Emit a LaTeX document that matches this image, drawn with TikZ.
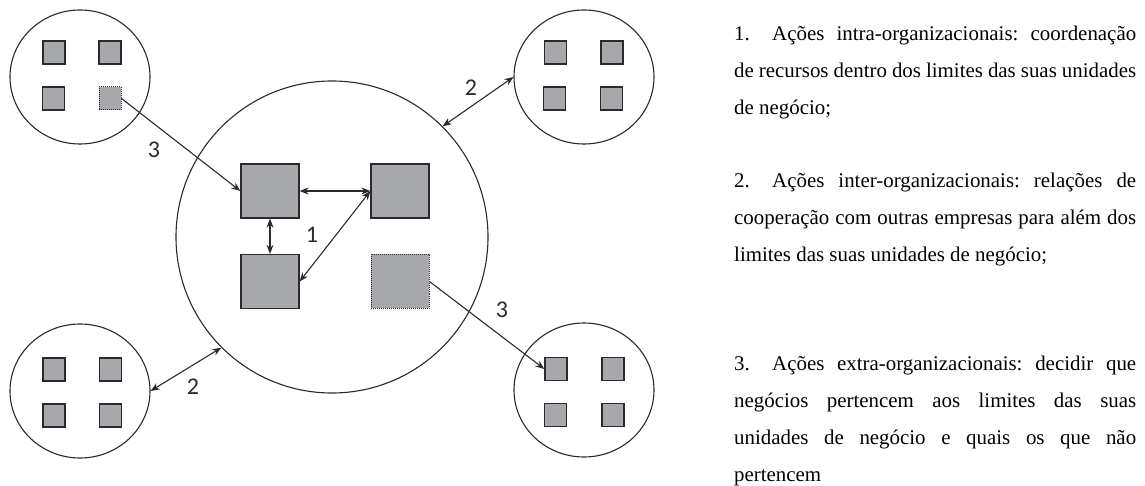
\documentclass[tikz,border=0pt]{standalone}
\usepackage{fontspec}
\setmainfont{Liberation Serif}
\newfontfamily\lblfont{Carlito}
\usetikzlibrary{arrows.meta,shapes.geometric}
\definecolor{sqfill}{HTML}{A7A8AB}
\definecolor{ink}{HTML}{2A2A2A}
\begin{document}
\frenchspacing
\begin{tikzpicture}[x=1bp,y=-1bp,
  >={Stealth[length=9bp,width=7bp]},
  ring/.style={draw=ink, line width=1.1bp, ellipse, minimum width=140bp, minimum height=134bp, inner sep=0pt},
  bigring/.style={draw=ink, line width=1.1bp, circle, minimum size=312bp, inner sep=0pt},
  sq/.style={draw=ink, fill=sqfill, line width=1.3bp, minimum width=22bp, minimum height=23bp, inner sep=0pt},
  bsq/.style={sq, minimum width=58bp, minimum height=54bp},
  dotsq/.style={dash pattern=on 1bp off 1bp, line width=1bp},
  con/.style={draw=ink, line width=1.1bp},
  lbl/.style={font=\lblfont\fontsize{24bp}{28bp}\selectfont, text=ink, inner sep=0pt},
  txt/.style={font=\fontsize{20.9bp}{25bp}\selectfont\frenchspacing, anchor=base west, inner sep=0pt}
]
\useasboundingbox (0,0) rectangle (1145,486);

% circles
\node[ring] (rTL) at (80,77) {};
\node[ring] (rTR) at (584,77) {};
\node[ring] (rBL) at (80,391) {};
\node[ring] (rBR) at (584,390) {};
\node[bigring] (C) at (332,237) {};

% small squares
\node[sq] (a1) at (54,52.5) {};
\node[sq] (a2) at (110,52.5) {};
\node[sq] (a3) at (53.5,98.5) {};
\node[sq,dotsq] (a4) at (110,98.5) {};

\node[sq] (b1) at (555.5,52.5) {};
\node[sq] (b2) at (612,52.5) {};
\node[sq] (b3) at (554.5,98.5) {};
\node[sq] (b4) at (611.5,98.5) {};

\node[sq] (c1) at (54,369.5) {};
\node[sq] (c2) at (110.5,369.5) {};
\node[sq] (c3) at (54,415.5) {};
\node[sq] (c4) at (110.5,415.5) {};

\node[sq] (d1) at (556,369) {};
\node[sq] (d2) at (613,369) {};
\node[sq] (d3) at (555.5,415) {};
\node[sq] (d4) at (613,415) {};

% central squares
\node[bsq] (cTL) at (270,191) {};
\node[bsq] (cTR) at (400,191) {};
\node[bsq] (cBL) at (270,281.5) {};
\node[bsq,dotsq] (cBR) at (400,281.5) {};

% connectors
\draw[con,<->] (cTL.east) -- (cTR.west);
\draw[con,<->] (cTL.south) -- (cBL.north);
\draw[con,<->] (cTR.west) -- (cBL.east);
\draw[con,->] (a4.east) -- (cTL.west);
\draw[con,->] (cBR.east) -- (d1.west);
\draw[con,<->] (C.45) -- (rTR.west);
\draw[con,<->] (rBL.east) -- (C.225);

% labels
\node[lbl] (n1) at (312,235) {1};
\node[lbl] (n2a) at (471,88) {2};
\node[lbl] (n2b) at (193,387) {2};
\node[lbl] (n3a) at (154,150) {3};
\node[lbl] (n3b) at (502,310) {3};

% text
\node[txt] (p1a) at (734,40.7) {\makebox[402bp][s]{\makebox[38bp][l]{1.}Ações intra-organizacionais: coordenação}};
\node[txt] (p1b) at (734,77.4) {\makebox[402bp][s]{de recursos dentro dos limites das suas unidades}};
\node[txt] (p1c) at (734,114.1) {de negócio;};

\node[txt] (p2a) at (734,188) {\makebox[402bp][s]{\makebox[38bp][l]{2.}Ações inter-organizacionais: relações de}};
\node[txt] (p2b) at (734,224.7) {\makebox[402bp][s]{cooperação com outras empresas para além dos}};
\node[txt] (p2c) at (734,261.4) {limites das suas unidades de negócio;};

\node[txt] (p3a) at (734,371) {\makebox[402bp][s]{\makebox[38bp][l]{3.}Ações extra-organizacionais: decidir que}};
\node[txt] (p3b) at (734,407.7) {\makebox[402bp][s]{negócios pertencem aos limites das suas}};
\node[txt] (p3c) at (734,444.4) {\makebox[402bp][s]{unidades de negócio e quais os que não}};
\node[txt] (p3d) at (734,481) {pertencem};
\end{tikzpicture}
\end{document}
